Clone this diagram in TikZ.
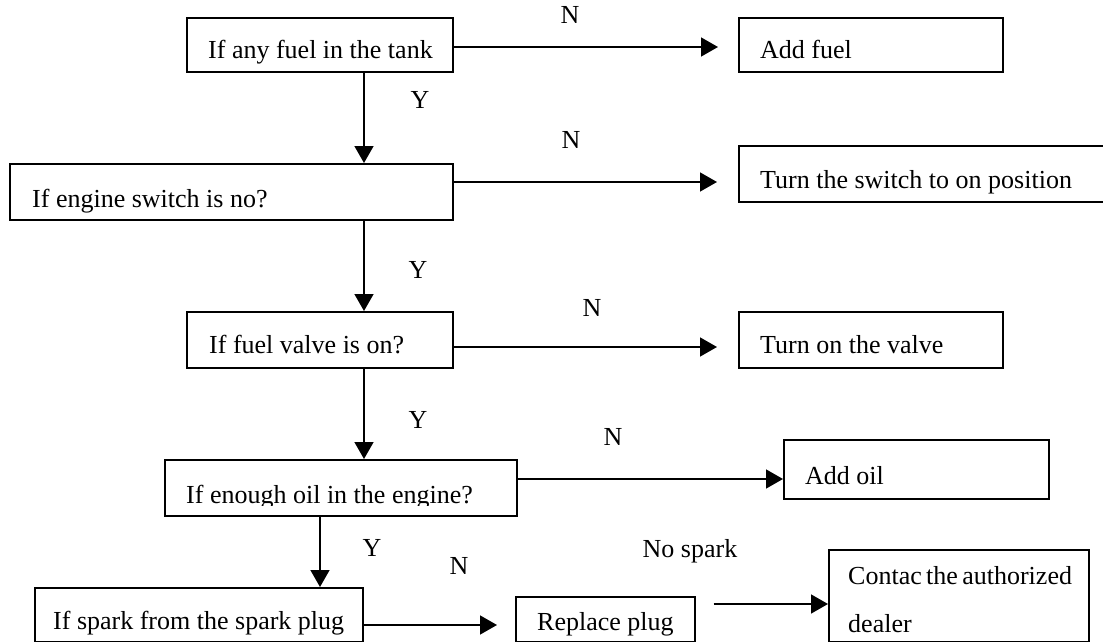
\documentclass[tikz,border=0pt]{standalone}
\usepackage{fontspec}
\setmainfont{Liberation Serif}
\usetikzlibrary{arrows.meta}
\begin{document}
\begin{tikzpicture}[x=1pt,y=-1pt,
  box/.style={draw, line width=1.6pt, inner sep=0pt, anchor=north west},
  txt/.style={inner sep=0pt, anchor=base west, font=\fontsize{26}{30}\selectfont},
  lbl/.style={inner sep=0pt, font=\fontsize{26}{30}\selectfont},
  arr/.style={line width=1.6pt, -{Triangle[length=17pt,width=19pt]}}]
\useasboundingbox (0,0) rectangle (1103,642);
\clip (0,0) rectangle (1103,642);
% boxes
\node[box, minimum width=266pt, minimum height=54pt] (A) at (186,17) {};
\node[box, minimum width=264pt, minimum height=54pt] (B) at (738,17) {};
\node[box, minimum width=443pt, minimum height=56pt] (C) at (9,163) {};
\node[box, minimum width=380pt, minimum height=56pt] (D) at (738,145) {};
\node[box, minimum width=266pt, minimum height=56pt] (E) at (186,311) {};
\node[box, minimum width=264pt, minimum height=56pt] (F) at (738,311) {};
\node[box, minimum width=352pt, minimum height=56pt] (G) at (164,459) {};
\node[box, minimum width=265pt, minimum height=59pt] (I) at (783,439) {};
\node[box, minimum width=328pt, minimum height=54pt] (H) at (34,587) {};
\node[box, minimum width=179pt, minimum height=45pt] (J) at (515,596) {};
\node[box, minimum width=260pt, minimum height=92pt] (K) at (828,549) {};
% texts
\node[txt] (At) at (208,59) {If any fuel in the tank};
\node[txt] (Bt) at (760,59) {Add fuel};
\node[txt] (Ct) at (32,207) {If engine switch is no?};
\node[txt] (Dt) at (760,188) {Turn the switch to on position};
\node[txt] (Et) at (209,353) {If fuel valve is on?};
\node[txt] (Ft) at (760,353) {Turn on the valve};
\node[txt] (Gt) at (186,503) {If enough oil in the engine?};
\fill[white] (186,506) rectangle (500,513);
\fill[white] (340,512) rectangle (408,515);
\node[txt] (It) at (805,484) {Add oil};
\node[txt] (Ht) at (53,629) {If spark from the spark plug};
\node[txt] (Jt) at (537,630) {Replace plug};
\node[txt] (Kt1) at (848,584) {\makebox[223pt][s]{Contac the authorized}};
\node[txt] (Kt2) at (848,632) {dealer};
% columns and rows
\coordinate (col) at (364,0);
\coordinate (colG) at (320,0);
\coordinate (r1) at (0,47);
\coordinate (r2) at (0,182);
\coordinate (r3) at (0,347);
\coordinate (r4) at (0,479);
\coordinate (r5) at (0,625);
\coordinate (r6) at (0,604);
% connectors
\draw[arr, shorten >=20pt] (A.east |- r1) -- (B.west |- r1);
\draw[arr] (A.south -| col) -- (C.north -| col);
\draw[arr, shorten >=21pt] (C.east |- r2) -- (D.west |- r2);
\draw[arr] (C.south -| col) -- (E.north -| col);
\draw[arr, shorten >=21pt] (E.east |- r3) -- (F.west |- r3);
\draw[arr] (E.south -| col) -- (G.north -| col);
\draw[arr] (G.east |- r4) -- (I.west |- r4);
\draw[arr] (G.south -| colG) -- (H.north -| colG);
\draw[arr, shorten >=18pt] (H.east |- r5) -- (J.west |- r5);
\draw[arr, shorten <=18pt] (J.east |- r6) -- (K.west |- r6);
% labels
\node[lbl] (N1) at (570,15) {N};
\node[lbl] (Y1) at (420,100) {Y};
\node[lbl] (N2) at (571,140) {N};
\node[lbl] (Y2) at (418,270) {Y};
\node[lbl] (N3) at (592,308) {N};
\node[lbl] (Y3) at (418,420) {Y};
\node[lbl] (N4) at (613,437) {N};
\node[lbl] (Y4) at (372,548) {Y};
\node[lbl] (N5) at (459,566) {N};
\node[lbl] (NS) at (690,551) {No spark};
\end{tikzpicture}
\end{document}
